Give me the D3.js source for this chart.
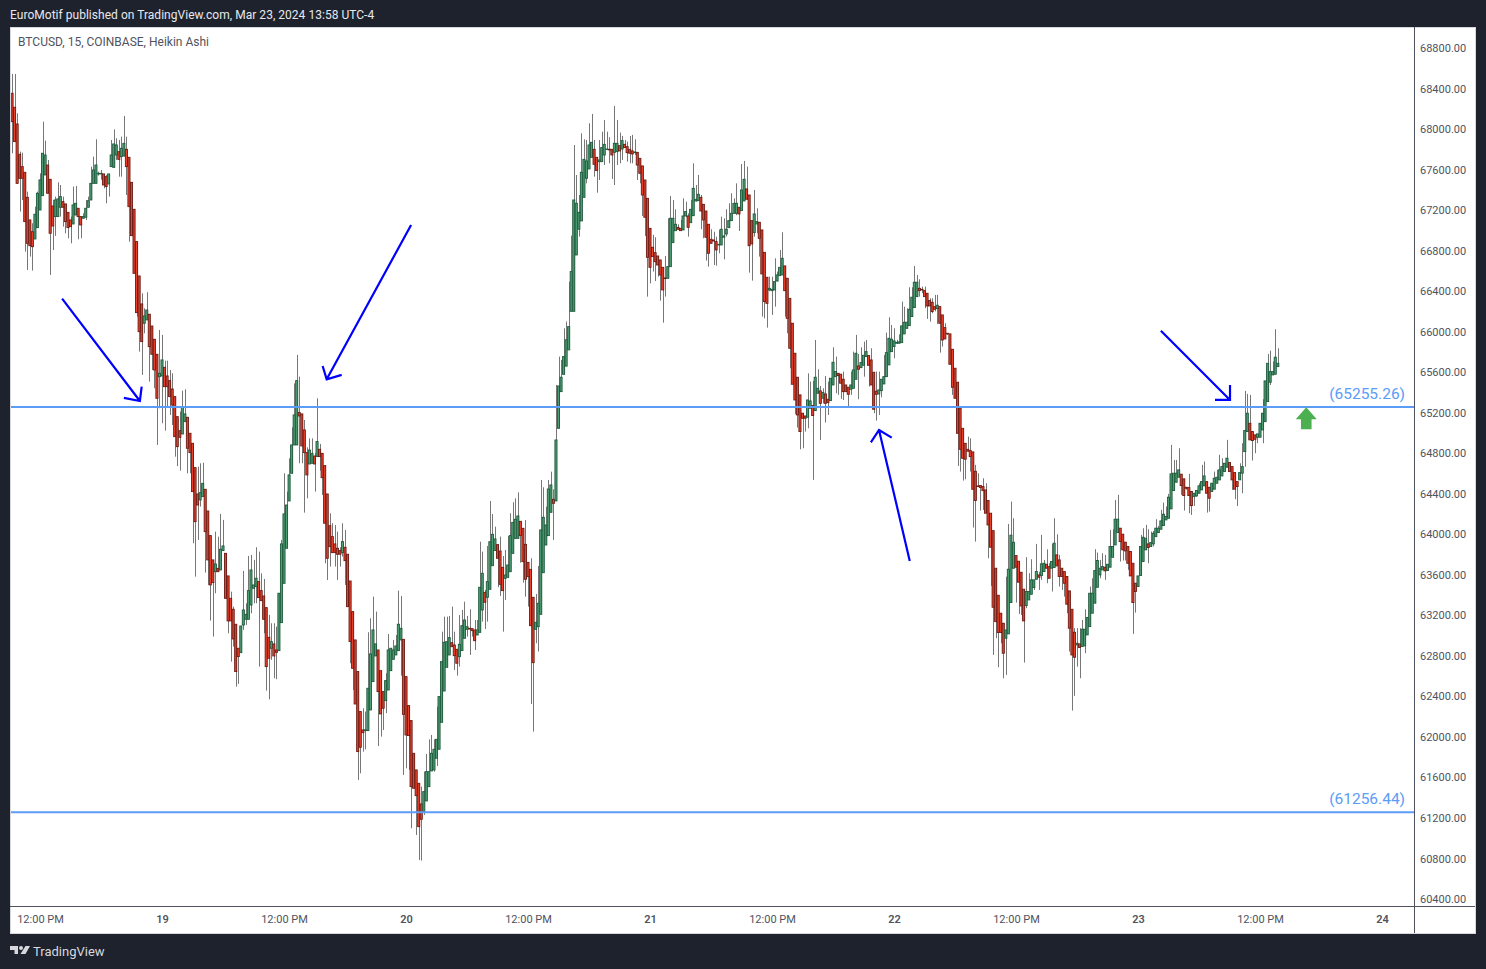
<!DOCTYPE html>
<html>
<head>
<meta charset="utf-8">
<title>BTCUSD Heikin Ashi</title>
<script src="https://cdnjs.cloudflare.com/ajax/libs/d3/7.8.5/d3.min.js"></script>
<style>
    html, body { margin: 0; padding: 0; background: #1e222d; overflow: hidden; }
    text { font-family: Roboto, "Noto Sans", sans-serif; }
</style>
</head>
<body>
<div id="chart"></div>
<script>
// 15 minute Heikin Ashi bars, 10 per line
const opens = [
68336,68353,68215,68050,67751,67629,67573,67326,67103,66987,
66915,67027,67201,67343,67547,67645,67504,67241,67136,67136,
67228,67284,67261,67178,67103,67063,67152,67218,67136,67119,
67129,67228,67300,67464,67464,67557,67557,67557,67530,67458,
67629,67622,67744,67777,67728,67734,67800,67721,67474,67208,
66889,66550,66274,66083,66116,66172,66056,65925,65777,65556,
65563,65648,65563,65517,65434,65359,65161,65023,64990,65112,
65155,64997,64898,64658,64398,64339,64372,64444,64230,63987,
63747,63631,63664,63648,63839,63812,63589,63368,63260,63112,
62875,62832,63105,63161,63161,63302,63467,63483,63533,63444,
63391,63276,62983,62875,62918,62858,62852,63128,63516,63862,
64329,64602,64882,64882,65201,65188,65030,64806,64694,64701,
64773,64767,64839,64799,64678,64398,64085,63977,63905,63862,
63839,63819,63872,63803,63539,63237,62957,62645,62250,62069,
62062,62062,62266,62546,62799,62858,62654,62447,62358,62463,
62654,62766,62809,62852,62957,62963,62595,62309,62161,61838,
61674,61542,61338,61256,61368,61509,61664,61674,61789,61878,
62144,62453,62687,62809,62930,62907,62865,62792,62852,62973,
63062,63072,63069,63056,63006,63032,63253,63427,63378,63457,
63690,63839,63898,63835,63674,63565,63575,63631,63812,63960,
63960,64128,64059,63901,63723,63654,63378,63062,63088,63210,
63621,63894,63987,64217,64345,64329,65046,65408,65579,65660,
65820,66201,66201,66757,67011,67093,67326,67514,67606,67721,
67800,67721,67678,67678,67744,67800,67800,67800,67770,67777,
67836,67803,67849,67826,67800,67784,67767,67770,67711,67636,
67497,67316,67020,66833,66780,66747,66708,66635,66530,66527,
66642,66879,66997,67030,67020,67004,67142,67142,67076,67145,
67290,67293,67326,67257,67191,67060,66912,66905,66889,66856,
66856,66932,66964,67027,67096,67168,67168,67228,67195,67290,
67409,67349,67096,66978,67063,67080,67004,66783,66537,66412,
66405,66412,66500,66553,66560,66649,66527,66329,66083,65787,
65550,65376,65195,65168,65155,65244,65270,65221,65392,65415,
65343,65385,65333,65320,65474,65556,65589,65580,65530,65474,
65451,65431,65441,65530,65662,65645,65668,65754,65764,65721,
65599,65412,65385,65418,65484,65556,65672,65803,65853,65886,
65886,65892,65978,66033,66060,66149,66238,66346,66428,66418,
66405,66379,66307,66290,66247,66228,66247,66165,66040,65984,
65978,65826,65639,65501,65244,65046,64898,64839,64826,64813,
64622,64477,64481,64471,64438,64333,64208,64036,63665,63398,
63221,63122,62974,63017,63326,63665,63790,63734,63625,63458,
63296,63352,63408,63474,63556,63599,63593,63632,63704,63681,
63665,63672,63797,63747,63665,63632,63583,63441,63260,63033,
62908,62918,62892,62898,63007,63089,63221,63320,63477,63599,
63649,63675,63642,63675,63773,63895,64017,64060,64001,63922,
63879,63830,63714,63517,63484,63593,63731,63846,63905,63879,
63905,63977,64017,64050,64086,64142,64158,64251,64432,64514,
64563,64593,64547,64464,64461,64422,64372,64379,64405,64438,
64478,64520,64464,64422,64445,64504,64537,64576,64619,64662,
64708,64668,64609,64520,64537,64603,64816,65014,65096,65014,
64981,64958,64958,65030,65112,65310,65501,65573,65580,65655
];

const closes = [
68386,68073,67876,67464,67514,67514,67086,66872,66849,66839,
67159,67366,67498,67761,67744,67366,66971,67043,67300,67310,
67333,67228,67086,67027,67037,67251,67267,67136,67053,67136,
67218,67293,67464,67596,67645,67563,67563,67448,67432,67557,
67744,67853,67843,67701,67810,67859,67629,67234,66948,66576,
66188,66000,65902,66155,66214,65852,65777,65622,65342,65589,
65721,65457,65457,65359,65276,64964,64865,64957,65253,65188,
64849,64806,64421,64125,64289,64411,64503,64026,63747,63500,
63523,63707,63631,63852,63885,63368,63145,63145,62967,62645,
62793,63095,63253,63210,63444,63648,63500,63566,63375,63345,
63161,62694,62776,62941,62799,62835,63418,63905,64201,64289,
64586,64882,65178,65517,65168,64872,64806,64586,64832,64799,
64694,64915,64767,64559,64109,63763,63878,63819,63819,63803,
63803,63928,63740,63286,62941,62677,62325,61855,61898,62042,
62069,62480,62819,63056,62918,62447,62227,62283,62556,62858,
62875,62858,62898,63112,63072,62223,62019,62013,61509,61493,
61420,61114,61187,61460,61657,61657,61838,61878,61976,62398,
62743,62934,62940,62980,62891,62802,62727,62914,63098,63154,
63088,63065,63049,62950,63056,63477,63615,63329,63533,63927,
64000,63954,63763,63506,63444,63598,63697,63987,64118,64148,
64181,63987,63730,63556,63582,63098,62733,63131,63319,64043,
64168,64092,64447,64487,64306,64931,65464,65550,65754,65920,
66050,66593,67300,67267,67178,67573,67701,67685,67843,67869,
67652,67590,67695,67817,67849,67803,67794,67744,67859,67859,
67784,67886,67817,67767,67761,67754,67774,67645,67563,67349,
67129,66734,66635,66741,66691,66658,66560,66412,66524,66642,
67119,67119,67060,67011,66997,67142,67185,67030,67208,67415,
67306,67356,67191,67103,66932,66774,66872,66895,66807,66862,
67011,66945,67011,67096,67168,67267,67267,67162,67399,67504,
67307,66849,66866,67162,67086,66922,66570,66297,66280,66428,
66418,66494,66560,66635,66724,66405,66132,65836,65481,65326,
65178,65014,65145,65145,65326,65316,65172,65550,65441,65293,
65399,65293,65300,65540,65698,65606,65566,65491,65408,65408,
65382,65474,65622,65787,65629,65695,65767,65803,65668,65474,
65234,65382,65425,65530,65556,65793,65935,65925,65909,65895,
65899,66057,66093,66093,66221,66340,66488,66488,66405,66412,
66346,66254,66254,66198,66221,66261,66083,65918,65928,65978,
65678,65451,65343,64997,64839,64750,64741,64820,64767,64444,
64333,64471,64461,64431,64208,64092,63872,63280,63138,63030,
63030,62826,63056,63655,63991,63921,63675,63527,63293,63145,
63435,63435,63550,63550,63632,63576,63708,63714,63665,63566,
63731,63912,63688,63583,63583,63517,63310,63073,62809,62786,
62925,62882,63063,63063,63178,63418,63418,63642,63741,63665,
63681,63639,63704,63879,63879,64149,64149,63928,63846,63836,
63714,63589,63326,63435,63589,63879,63971,63961,63869,63918,
64010,64060,64060,64132,64198,64175,64366,64596,64603,64603,
64636,64481,64382,64454,64382,64283,64405,64432,64478,64520,
64576,64405,64356,64504,64553,64563,64636,64668,64701,64751,
64619,64537,64445,64471,64609,64668,65024,65195,64932,64925,
64938,64991,65096,65195,65514,65688,65606,65606,65748,65688
];

const highs = [
68583,68544,68544,68155,67777,67767,67573,67382,67103,67070,
67234,67382,67563,68073,67886,67695,67504,67300,67333,67474,
67448,67333,67261,67178,67136,67432,67438,67218,67136,67169,
67300,67333,67629,67728,67899,67580,67596,67557,67547,67557,
67892,67997,67909,67892,67925,68129,67925,67721,67474,67208,
66889,66550,66379,66231,66389,66172,66056,65925,65777,66017,
65968,65714,65714,65622,65589,65359,65161,65211,65418,65431,
65155,64997,64898,64658,64668,64701,64707,64444,64230,63987,
63747,64026,63977,64201,64142,63812,63589,63434,63286,63112,
62875,63095,63638,63319,63786,63796,63747,63872,63829,63615,
63559,63276,63204,63122,63122,63089,63418,63944,64602,64421,
64750,65056,65490,65770,65556,65188,65128,64859,64947,64947,
64799,65342,64892,64799,64678,64398,64207,64109,64092,64026,
63872,64109,64043,63803,63539,63237,62957,62645,62250,62282,
62250,63033,63171,63385,63237,62858,62654,62447,62628,63016,
62875,62957,63006,63444,63391,62963,62595,62309,62161,61838,
61674,61542,61509,61657,61832,61976,62019,61976,62299,62398,
63039,63187,63187,63194,63286,63039,62865,63204,63253,63335,
63194,63260,63069,63154,63154,63927,63829,63450,63885,64329,
64200,64075,63898,63977,63786,63845,63983,64207,64316,64355,
64414,64128,64059,64141,63723,63763,63378,63411,63687,64536,
64464,64273,64536,64618,64444,65474,65754,65721,66033,66100,
66494,66948,67843,67547,67349,67958,67899,67892,68057,68149,
67892,67721,67892,67974,68090,67974,67919,67800,68228,68090,
67965,67932,67892,67876,67932,67942,67899,67770,67711,67636,
67497,67316,67020,66955,66932,66747,66708,66635,66747,67119,
67340,67300,67208,67060,67103,67316,67283,67168,67300,67662,
67448,67547,67349,67257,67191,67060,67011,66987,66938,67004,
67135,67119,67208,67267,67366,67316,67464,67228,67655,67685,
67629,67349,67096,67399,67218,67080,67004,66783,66537,66543,
66543,66724,66593,66806,66981,66649,66527,66329,66083,65787,
65550,65376,65195,65168,65589,65507,65514,65918,65629,65464,
65441,65563,65507,65540,65846,65754,65589,65580,65606,65474,
65451,65606,65803,65968,65780,65846,65902,65918,65764,65836,
65599,65606,65606,65530,65770,65991,66142,66066,66033,65920,
65974,66297,66247,66231,66438,66438,66649,66560,66517,66445,
66445,66379,66330,66330,66363,66363,66247,66165,66083,65984,
65978,65826,65639,65501,65244,65046,64898,64964,64948,64813,
64685,64602,64481,64553,64504,64333,64208,64036,63665,63398,
63221,63122,63582,64102,64323,64158,63790,63734,63625,63458,
63774,63616,63754,63550,63905,63630,63994,63747,63852,63714,
63905,64158,64000,63797,63665,63632,63583,63441,63260,63073,
63073,63073,63155,63260,63178,63484,63566,63853,63820,63747,
63813,63797,63704,64043,64050,64339,64389,64060,64001,63922,
63879,63830,63714,63517,63589,63994,64060,64093,64050,64027,
64033,64149,64083,64241,64313,64274,64399,64882,64734,64734,
64849,64593,64547,64464,64596,64422,64405,64432,64504,64685,
64718,64520,64464,64504,64619,64636,64784,64751,64701,64932,
64708,64668,64609,64520,64701,64899,65415,65386,65376,65014,
64981,64991,65096,65333,65514,65780,65813,65705,66024,65836
];

const lows = [
68287,67761,67876,67464,67185,67300,66790,66609,66741,66603,
66915,67027,67201,67343,67547,67366,66560,66806,66945,67136,
67136,67037,66971,66922,66872,67063,67152,66912,66922,67119,
67103,67228,67300,67464,67464,67540,67500,67415,67267,67333,
67629,67622,67695,67530,67530,67728,67349,66889,66948,66576,
66148,65803,65573,65984,66116,65507,65622,65441,64882,65244,
65096,65023,65260,65178,65079,64766,64674,64628,64990,65112,
64602,64602,63911,63582,63944,64273,64372,63622,63500,63148,
62990,63418,63631,63648,63839,63368,63023,62743,62891,62496,
62523,62832,63056,63105,63161,63220,63319,63319,62694,63345,
63023,62457,62371,62760,62579,62569,62852,63128,63516,63862,
64329,64602,64882,64882,64701,64701,64214,64355,64694,64701,
64421,64767,64628,64388,63714,63549,63681,63819,63681,63549,
63681,63780,63500,63286,62727,62463,62325,61575,61641,61855,
61878,62062,62266,62546,62799,61911,62003,62069,62234,62463,
62654,62766,62809,62852,62605,61624,61690,61674,61098,61493,
61032,60785,60779,61230,61368,61509,61664,61657,61713,61878,
62144,62453,62687,62809,62891,62661,62605,62694,62852,62973,
62990,62809,62990,62858,63006,63032,63138,63065,63138,63457,
63690,63839,63477,63391,63039,63352,63575,63631,63812,63960,
63960,63720,63523,63384,63286,62325,62052,62924,62842,63210,
63621,63894,63987,64217,63944,64329,65046,65408,65579,65660,
65820,66201,66201,66757,66938,67093,67326,67464,67606,67721,
67530,67372,67497,67678,67645,67795,67662,67507,67448,67645,
67662,67695,67817,67678,67662,67662,67744,67497,67464,67142,
66945,66346,66477,66593,66500,66543,66306,66089,66346,66527,
66642,66879,66997,67005,66997,67004,67130,66938,67076,67145,
67285,67293,67011,66922,66701,66642,66872,66658,66652,66774,
66856,66714,66940,67027,67096,67168,67150,66994,67195,67290,
67307,66583,66504,66938,66971,66741,66149,66132,66040,66400,
66165,66247,66494,66553,66560,66149,65984,65639,65481,65185,
65053,64839,64849,65014,65046,65244,64537,65221,65392,64931,
65293,65103,65178,65320,65474,65392,65376,65336,65326,65408,
65254,65376,65441,65530,65333,65645,65556,65754,65458,65474,
65195,65122,65178,65352,65484,65556,65672,65803,65737,65880,
65886,65892,65978,66033,66060,66149,66238,66346,66346,66380,
66231,66126,66099,66182,66200,66076,65793,65853,65928,65970,
65678,65376,65343,64675,64619,64530,64543,64820,64619,64066,
63928,64471,64234,64240,64208,63763,63490,62809,62974,62688,
62924,62579,62612,63017,63326,63665,63326,63214,63204,62734,
63270,63352,63408,63450,63556,63451,63550,63632,63517,63566,
63435,63672,63688,63484,63451,63385,63221,62842,62260,62405,
62694,62579,62892,62826,63007,63089,63221,63320,63477,63566,
63649,63550,63642,63675,63773,63895,64017,63731,63741,63741,
63649,63589,63017,63227,63484,63593,63731,63846,63714,63879,
63880,63977,64017,64050,64086,64142,64158,64251,64432,64514,
64563,64389,64234,64440,64208,64191,64280,64370,64405,64438,
64478,64214,64224,64422,64445,64504,64537,64576,64619,64662,
64619,64438,64346,64280,64537,64405,64668,65014,64932,64728,
64800,64899,64958,64899,65112,65310,65474,65573,65580,65655
];

// Axis ticks
const priceTicks = [68800, 68400, 68000, 67600, 67200, 66800, 66400, 66000, 65600, 65200, 64800, 64400,
    64000, 63600, 63200, 62800, 62400, 62000, 61600, 61200, 60800, 60400];
const timeTicks = [12, 60, 108, 156, 204, 252, 300, 348, 396, 444, 492, 540];
const timeLabels = ['12:00 PM', '19', '12:00 PM', '20', '12:00 PM', '21', '12:00 PM', '22', '12:00 PM', '23', '12:00 PM', '24'];

// Horizontal levels
const levels = [65255.26, 61256.44];

// Hand drawn arrows as [bar, price]: tail, tip, barb, barb
const arrows = [
    [[20.7, 66326], [51.3, 65316], [52.0, 65457], [45.0, 65346]],
    [[158.0, 67053], [124.8, 65530], [123.2, 65661], [130.7, 65573]],
    [[354.2, 63737], [342.1, 65030], [338.9, 64908], [347.1, 64954]],
    [[453.0, 66010], [480.2, 65326], [480.2, 65474], [474.3, 65326]]
];
const upMarker = [510.2, 65255];

const width = 1486;
const height = 969;
const pane = { left: 11, right: 1414, top: 28, bottom: 906 };
const frame = { left: 10, right: 1475, top: 27, bottom: 933 };

const svg = d3.select('#chart')
    .append('svg')
    .attr('width', width)
    .attr('height', height)
    .style('display', 'block');

// Header and footer on the dark frame
svg.append('text')
    .attr('x', 10)
    .attr('y', 19)
    .attr('fill', '#e6e8ee')
    .style('font-size', '12px')
    .style('letter-spacing', '0.03px')
    .text('EuroMotif published on TradingView.com, Mar 23, 2024 13:58 UTC-4');

svg.append('rect')
    .attr('x', frame.left + 0.5)
    .attr('y', frame.top + 0.5)
    .attr('width', frame.right - frame.left)
    .attr('height', frame.bottom - frame.top)
    .attr('fill', '#fff')
    .attr('stroke', '#d6d8de');

// Scales
const xScale = d3.scaleLinear().domain([60, 540]).range([162, 1382]);
const yScale = d3.scaleLinear().domain([60400, 68800]).range([899, 48]);

svg.append('defs').append('clipPath')
    .attr('id', 'pane-clip')
    .append('rect')
    .attr('x', pane.left)
    .attr('y', pane.top)
    .attr('width', pane.right - pane.left)
    .attr('height', pane.bottom - pane.top);

const plot = svg.append('g').attr('clip-path', 'url(#pane-clip)');

// Wicks
plot.append('g').selectAll('line')
    .data(d3.range(opens.length))
    .enter()
    .append('line')
    .attr('x1', i => Math.round(xScale(i)) + 0.5)
    .attr('x2', i => Math.round(xScale(i)) + 0.5)
    .attr('y1', i => yScale(highs[i]))
    .attr('y2', i => yScale(lows[i]))
    .attr('stroke', '#777')
    .attr('stroke-width', 1);

// Bodies
plot.append('g').selectAll('rect')
    .data(d3.range(opens.length))
    .enter()
    .append('rect')
    .attr('x', i => xScale(i) - 1.05)
    .attr('width', 2.1)
    .attr('y', i => yScale(Math.max(opens[i], closes[i])))
    .attr('height', i => Math.max(0.5, Math.abs(yScale(opens[i]) - yScale(closes[i]))))
    .attr('fill', i => closes[i] >= opens[i] ? '#4f9d73' : '#e8412c')
    .attr('stroke', i => closes[i] >= opens[i] ? '#1d5a3c' : '#6d1a12')
    .attr('stroke-width', 0.9);

// Level lines
plot.append('g').selectAll('line')
    .data(levels)
    .enter()
    .append('line')
    .attr('x1', pane.left)
    .attr('x2', pane.right)
    .attr('y1', d => yScale(d))
    .attr('y2', d => yScale(d))
    .attr('stroke', '#5b9cf6')
    .attr('stroke-width', 2);

svg.append('g').selectAll('text')
    .data(levels)
    .enter()
    .append('text')
    .attr('x', 1405)
    .attr('y', d => yScale(d) - 8)
    .attr('text-anchor', 'end')
    .attr('fill', '#5b9cf6')
    .style('font-size', '15.5px')
    .text(d => `(${d.toFixed(2)})`);

// Arrows
const line = d3.line().x(d => xScale(d[0])).y(d => yScale(d[1]));
plot.append('g').selectAll('path')
    .data(arrows)
    .enter()
    .append('path')
    .attr('d', d => line([d[0], d[1]]) + line([d[2], d[1], d[3]]))
    .attr('fill', 'none')
    .attr('stroke', '#0000ff')
    .attr('stroke-width', 2.2);

// Green up arrow, tip on the level
plot.append('path')
    .attr('transform', `translate(${xScale(upMarker[0])}, ${yScale(upMarker[1])})`)
    .attr('d', 'M0,0 L10.5,12 L5.3,12 L5.3,22 L-5.3,22 L-5.3,12 L-10.5,12 Z')
    .attr('fill', '#4caf50');

// Axes
const yAxis = d3.axisRight(yScale)
    .tickValues(priceTicks)
    .tickSize(0)
    .tickPadding(6)
    .tickFormat(d3.format('.2f'));

const gy = svg.append('g')
    .attr('transform', `translate(${pane.right}, 0)`)
    .call(yAxis);
gy.select('.domain').attr('stroke', '#50535e').attr('d', `M0.5,${frame.top}V${frame.bottom}`);
gy.selectAll('text').attr('fill', '#50535e').style('font-size', '11px');

const xAxis = d3.axisBottom(xScale)
    .tickValues(timeTicks)
    .tickSize(0)
    .tickPadding(9)
    .tickFormat((d, i) => timeLabels[i]);

const gx = svg.append('g')
    .attr('transform', `translate(0, ${pane.bottom})`)
    .call(xAxis);
gx.select('.domain').attr('stroke', '#50535e').attr('d', `M${frame.left},0.5H${frame.right}`);
gx.selectAll('text')
    .attr('fill', '#50535e')
    .style('font-size', '11px')
    .style('font-weight', (d, i) => i % 2 ? 600 : 400);

svg.append('text')
    .attr('x', 18)
    .attr('y', 46)
    .attr('fill', '#50535e')
    .style('font-size', '12px')
    .text('BTCUSD, 15, COINBASE, Heikin Ashi');

// TradingView footer
const logo = svg.append('g').attr('transform', 'translate(10, 946)').attr('fill', '#d6d8de');
logo.append('path').attr('d', 'M0,0H8V8H4.5V4H0Z');
logo.append('circle').attr('cx', 11).attr('cy', 2).attr('r', 2);
logo.append('path').attr('d', 'M15.5,0H20L15.5,8H10.5Z');
svg.append('text')
    .attr('x', 33)
    .attr('y', 956)
    .attr('fill', '#d6d8de')
    .style('font-size', '13px')
    .text('TradingView');
</script>
</body>
</html>
